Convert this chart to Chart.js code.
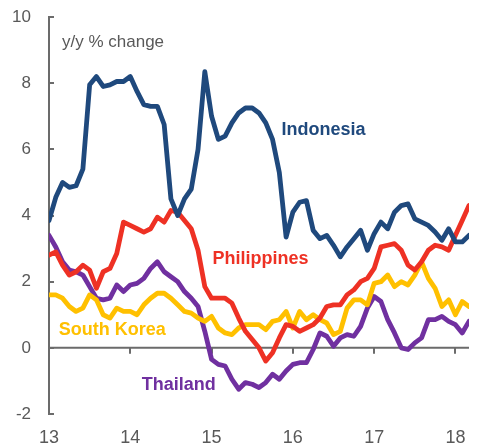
<!DOCTYPE html>
<html lang="en">
  <head>
    <meta charset="UTF-8" />
    <title>Core inflation - y/y % change</title>
    <script src="https://cdn.jsdelivr.net/npm/chart.js"></script>
    <style>
      html, body { margin: 0; padding: 0; background: #fff; }
      #wrap { width: 477px; height: 447px; }
    </style>
  </head>
  <body>
    <div id="wrap"><canvas id="grafico"></canvas></div>
  </body>
</html>
<script>
  // monthly series, Jan 2013 onwards (x = 13 + month / 12)
  const startYear = 13
  const yearTicks = [13, 14, 15, 16, 17, 18]

  const indonesia = [3.85, 4.55, 5.0, 4.85, 4.9, 5.4, 7.95, 8.2, 7.9, 7.95, 8.05, 8.05,
    8.2, 7.75, 7.35, 7.3, 7.3, 6.75, 4.5, 4.0, 4.5, 4.8, 6.0, 8.35,
    7.0, 6.3, 6.4, 6.8, 7.1, 7.25, 7.25, 7.1, 6.8, 6.3, 5.3, 3.35,
    4.1, 4.4, 4.45, 3.55, 3.3, 3.4, 3.1, 2.75, 3.05, 3.3, 3.55, 2.95,
    3.45, 3.8, 3.6, 4.1, 4.3, 4.35, 3.9, 3.8, 3.7, 3.5, 3.25, 3.6,
    3.2, 3.2, 3.4]

  const philippines = [2.8, 2.9, 2.5, 2.2, 2.3, 2.5, 2.35, 1.8, 2.3, 2.4, 2.85, 3.8,
    3.7, 3.6, 3.5, 3.6, 3.95, 3.8, 4.15, 4.1, 3.85, 3.6, 2.95, 1.85,
    1.5, 1.5, 1.5, 1.35, 0.9, 0.5, 0.25, 0.0, -0.4, -0.15, 0.3, 0.7,
    0.65, 0.5, 0.6, 0.7, 0.9, 1.25, 1.3, 1.3, 1.6, 1.75, 2.0, 2.1,
    2.4, 3.05, 3.1, 3.15, 2.95, 2.5, 2.35, 2.6, 2.95, 3.1, 3.05, 2.95,
    3.4, 3.85, 4.3]

  const southKorea = [1.6, 1.6, 1.5, 1.25, 1.1, 1.2, 1.6, 1.45, 1.0, 0.9, 1.2, 1.1,
    1.1, 1.0, 1.3, 1.5, 1.65, 1.65, 1.5, 1.3, 1.1, 1.05, 0.9, 0.8,
    0.95, 0.6, 0.45, 0.4, 0.6, 0.7, 0.7, 0.7, 0.55, 0.8, 0.85, 1.1,
    0.6, 1.1, 0.85, 1.0, 0.85, 0.75, 0.4, 0.5, 1.2, 1.45, 1.45, 1.3,
    1.95, 2.0, 2.2, 1.85, 2.0, 1.9, 2.2, 2.6, 2.1, 1.8, 1.25, 1.45,
    1.0, 1.4, 1.25]

  const thailand = [3.4, 3.05, 2.6, 2.35, 2.3, 2.2, 1.85, 1.5, 1.45, 1.5, 1.9, 1.7,
    1.9, 1.95, 2.1, 2.4, 2.6, 2.3, 2.15, 2.0, 1.7, 1.5, 1.25, 0.5,
    -0.35, -0.5, -0.55, -0.95, -1.25, -1.05, -1.1, -1.2, -1.05, -0.8, -0.95, -0.7,
    -0.5, -0.45, -0.45, -0.05, 0.45, 0.35, 0.05, 0.3, 0.4, 0.35, 0.65, 1.2,
    1.55, 1.4, 0.85, 0.45, 0.0, -0.05, 0.15, 0.3, 0.85, 0.85, 0.95, 0.8,
    0.7, 0.45, 0.8]

  const paises = ["Indonesia", "Philippines", "South Korea", "Thailand"]
  const cores = ["#1f497d", "#ee3124", "#ffc000", "#7030a0"]

  function serie(valores) {
    return valores.map((v, i) => ({ x: startYear + i / 12, y: v }))
  }

  const cinza = "#595959"
  const fonte = "'Liberation Sans', Arial, sans-serif"

  // axis line at zero, inward tick marks and the text labels
  const extras = {
    id: "extras",
    beforeDatasetsDraw(chart) {
      const { ctx, chartArea, scales } = chart
      const x = scales.x, y = scales.y
      const y0 = y.getPixelForValue(0)
      ctx.save()
      ctx.strokeStyle = "#6b6b6b"
      ctx.lineWidth = 2
      ctx.beginPath()
      ctx.moveTo(chartArea.left, y0)
      ctx.lineTo(chartArea.right, y0)
      yearTicks.slice(1).forEach((t) => {
        const px = Math.round(x.getPixelForValue(t))
        ctx.moveTo(px, y0)
        ctx.lineTo(px, y0 + 6)
      })
      y.ticks.forEach((t) => {
        const py = Math.round(y.getPixelForValue(t.value))
        ctx.moveTo(chartArea.left, py)
        ctx.lineTo(chartArea.left + 5, py)
      })
      ctx.stroke()
      ctx.restore()
    },
    afterDatasetsDraw(chart) {
      const { ctx, scales } = chart
      const x = scales.x, y = scales.y
      ctx.save()
      ctx.textBaseline = "middle"
      ctx.textAlign = "left"
      ctx.fillStyle = cinza
      ctx.font = "17px " + fonte
      ctx.fillText("y/y % change", x.getPixelForValue(13.16), y.getPixelForValue(9.24))
      ctx.font = "bold 18px " + fonte
      const rotulos = [
        [15.86, 6.59],
        [15.01, 2.69],
        [13.12, 0.54],
        [14.14, -1.12],
      ]
      rotulos.forEach((r, i) => {
        ctx.fillStyle = cores[i]
        ctx.fillText(paises[i], x.getPixelForValue(r[0]), y.getPixelForValue(r[1]))
      })
      ctx.restore()
    },
  }

  const grafico = document.getElementById("grafico")
  let linhas = new Chart(grafico, {
    type: "line",
    data: {
      datasets: [indonesia, philippines, southKorea, thailand].map((d, i) => ({
        label: paises[i],
        data: serie(d),
        borderColor: cores[i],
        borderWidth: 4.8,
        pointRadius: 0,
        tension: 0,
        borderJoinStyle: "round",
        borderCapStyle: "round",
        fill: false,
      })),
    },
    options: {
      responsive: true,
      maintainAspectRatio: false,
      animation: false,
      events: [],
      layout: { padding: { top: 17, right: 8, bottom: 0, left: 10 } },
      plugins: {
        legend: { display: false },
        tooltip: { enabled: false },
        title: { display: false },
      },
      scales: {
        x: {
          type: "linear",
          min: startYear,
          max: startYear + (indonesia.length - 1) / 12,
          afterBuildTicks: (axis) => {
            axis.ticks = yearTicks.map((v) => ({ value: v }))
          },
          afterFit: (axis) => {
            axis.height = 33
            axis.paddingLeft = 0
            axis.paddingRight = 0
          },
          ticks: {
            color: cinza,
            font: { family: fonte, size: 18 },
            padding: 13,
            maxRotation: 0,
            autoSkip: false,
            callback: (v) => v,
          },
          grid: { display: false, drawTicks: false },
          border: { display: false },
        },
        y: {
          min: -2,
          max: 10,
          afterFit: (axis) => {
            axis.width = 39
            axis.paddingTop = 0
            axis.paddingBottom = 0
          },
          ticks: {
            stepSize: 2,
            color: cinza,
            font: { family: fonte, size: 17 },
            padding: 18,
          },
          grid: { display: false, drawTicks: false },
          border: { display: true, color: "#6b6b6b", width: 2 },
        },
      },
    },
    plugins: [extras],
  })
</script>
